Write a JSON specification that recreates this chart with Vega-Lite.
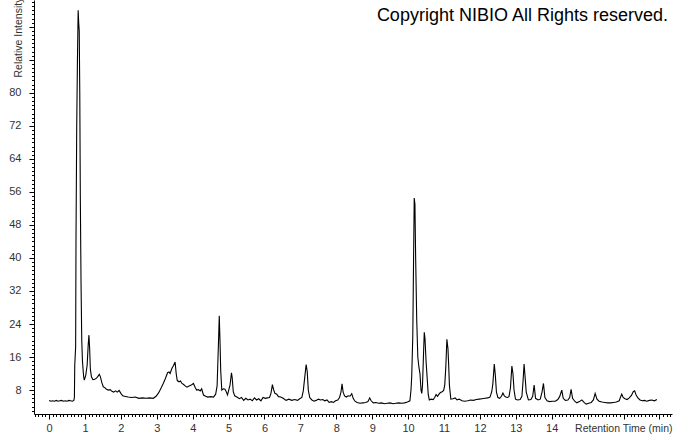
{
  "$schema": "https://vega.github.io/schema/vega-lite/v6.json",
  "width": 638,
  "height": 414,
  "autosize": {"type": "none"},
  "padding": {"left": 34, "top": 0, "right": 2, "bottom": 20},
  "background": "white",
  "config": {
    "view": {"stroke": null},
    "axis": {"grid": false, "domainColor": "#000", "tickColor": "#000", "labelFont": "Liberation Sans", "titleFont": "Liberation Sans", "labelColor": "#333", "titleColor": "#333", "titleFontWeight": "normal", "labelFlush": false, "labelOverlap": false}
  },
  "title": {"text": "Copyright NIBIO All Rights reserved.", "orient": "top", "anchor": "end", "frame": "group", "offset": -20, "dy": 8, "dx": -4, "baseline": "top", "font": "Liberation Sans", "fontSize": 18, "fontWeight": "normal", "color": "#000"},
  "data": {"values": [
    {"time": 0.00, "intensity": 5.5}, {"time": 0.05, "intensity": 5.3}, {"time": 0.10, "intensity": 5.4}, {"time": 0.15, "intensity": 5.3}, {"time": 0.20, "intensity": 5.5}, {"time": 0.25, "intensity": 5.3}, {"time": 0.30, "intensity": 5.4}, {"time": 0.35, "intensity": 5.5}, {"time": 0.40, "intensity": 5.3}, {"time": 0.45, "intensity": 5.4}, {"time": 0.50, "intensity": 5.3}, {"time": 0.55, "intensity": 5.5}, {"time": 0.60, "intensity": 5.4}, {"time": 0.65, "intensity": 5.3}, {"time": 0.69, "intensity": 5.5},
    {"time": 0.705, "intensity": 6.2}, {"time": 0.715, "intensity": 14}, {"time": 0.74, "intensity": 18.5}, {"time": 0.75, "intensity": 45}, {"time": 0.77, "intensity": 72}, {"time": 0.79, "intensity": 88}, {"time": 0.81, "intensity": 100}, {"time": 0.825, "intensity": 97}, {"time": 0.84, "intensity": 95}, {"time": 0.855, "intensity": 80}, {"time": 0.87, "intensity": 55}, {"time": 0.89, "intensity": 34}, {"time": 0.91, "intensity": 20}, {"time": 0.93, "intensity": 15}, {"time": 0.96, "intensity": 11.5}, {"time": 0.98, "intensity": 10.4},
    {"time": 1.02, "intensity": 11.5}, {"time": 1.06, "intensity": 14}, {"time": 1.09, "intensity": 19}, {"time": 1.11, "intensity": 21.3}, {"time": 1.13, "intensity": 18}, {"time": 1.15, "intensity": 13}, {"time": 1.18, "intensity": 11.2}, {"time": 1.22, "intensity": 10.5}, {"time": 1.27, "intensity": 10.6}, {"time": 1.32, "intensity": 10.9}, {"time": 1.36, "intensity": 11.3}, {"time": 1.40, "intensity": 11.8}, {"time": 1.43, "intensity": 11.2}, {"time": 1.47, "intensity": 9.8}, {"time": 1.51, "intensity": 8.8},
    {"time": 1.55, "intensity": 8.6}, {"time": 1.60, "intensity": 8.2}, {"time": 1.65, "intensity": 8.0}, {"time": 1.70, "intensity": 8.1}, {"time": 1.75, "intensity": 7.7}, {"time": 1.80, "intensity": 7.5}, {"time": 1.85, "intensity": 7.8}, {"time": 1.90, "intensity": 7.5}, {"time": 1.95, "intensity": 7.9}, {"time": 2.00, "intensity": 7.2}, {"time": 2.05, "intensity": 6.6}, {"time": 2.10, "intensity": 6.5}, {"time": 2.20, "intensity": 6.3}, {"time": 2.30, "intensity": 6.2}, {"time": 2.40, "intensity": 6.3}, {"time": 2.50, "intensity": 6.0}, {"time": 2.60, "intensity": 6.1}, {"time": 2.70, "intensity": 6.0}, {"time": 2.80, "intensity": 6.1}, {"time": 2.90, "intensity": 6.0},
    {"time": 2.98, "intensity": 6.5}, {"time": 3.05, "intensity": 7.3}, {"time": 3.12, "intensity": 8.5}, {"time": 3.18, "intensity": 9.6}, {"time": 3.24, "intensity": 10.8}, {"time": 3.30, "intensity": 12.2}, {"time": 3.34, "intensity": 12.4}, {"time": 3.37, "intensity": 12.0}, {"time": 3.42, "intensity": 13.2}, {"time": 3.47, "intensity": 14.0}, {"time": 3.51, "intensity": 14.8}, {"time": 3.54, "intensity": 12.0}, {"time": 3.57, "intensity": 10.3}, {"time": 3.62, "intensity": 10.0}, {"time": 3.66, "intensity": 10.2}, {"time": 3.70, "intensity": 9.6}, {"time": 3.74, "intensity": 9.4}, {"time": 3.79, "intensity": 9.0}, {"time": 3.84, "intensity": 8.7}, {"time": 3.90, "intensity": 9.0}, {"time": 3.96, "intensity": 9.2}, {"time": 4.02, "intensity": 9.6}, {"time": 4.07, "intensity": 8.6}, {"time": 4.11, "intensity": 8.0}, {"time": 4.16, "intensity": 8.1}, {"time": 4.21, "intensity": 7.8}, {"time": 4.25, "intensity": 8.3}, {"time": 4.30, "intensity": 6.8}, {"time": 4.36, "intensity": 6.5}, {"time": 4.42, "intensity": 6.3}, {"time": 4.50, "intensity": 6.4}, {"time": 4.58, "intensity": 6.3}, {"time": 4.64, "intensity": 7.0},
    {"time": 4.68, "intensity": 9.0}, {"time": 4.70, "intensity": 14.5}, {"time": 4.72, "intensity": 20}, {"time": 4.74, "intensity": 26}, {"time": 4.76, "intensity": 20}, {"time": 4.78, "intensity": 12.8}, {"time": 4.81, "intensity": 8.0}, {"time": 4.85, "intensity": 8.3}, {"time": 4.90, "intensity": 8.2}, {"time": 4.94, "intensity": 7.5}, {"time": 4.97, "intensity": 6.8}, {"time": 5.01, "intensity": 8.2}, {"time": 5.04, "intensity": 9.2}, {"time": 5.08, "intensity": 12.2}, {"time": 5.10, "intensity": 11.0}, {"time": 5.13, "intensity": 7.6}, {"time": 5.17, "intensity": 6.6}, {"time": 5.23, "intensity": 6.3},
    {"time": 5.30, "intensity": 5.9}, {"time": 5.36, "intensity": 6.2}, {"time": 5.42, "intensity": 5.5}, {"time": 5.48, "intensity": 6.0}, {"time": 5.54, "intensity": 5.6}, {"time": 5.60, "intensity": 5.8}, {"time": 5.66, "intensity": 5.4}, {"time": 5.72, "intensity": 6.1}, {"time": 5.78, "intensity": 5.6}, {"time": 5.84, "intensity": 5.9}, {"time": 5.90, "intensity": 5.4}, {"time": 5.96, "intensity": 6.2}, {"time": 6.02, "intensity": 6.0}, {"time": 6.08, "intensity": 6.1}, {"time": 6.14, "intensity": 6.2}, {"time": 6.18, "intensity": 7.2}, {"time": 6.22, "intensity": 9.3}, {"time": 6.25, "intensity": 8.2}, {"time": 6.29, "intensity": 7.2}, {"time": 6.34, "intensity": 7.0}, {"time": 6.39, "intensity": 6.4}, {"time": 6.45, "intensity": 6.3}, {"time": 6.52, "intensity": 6.0}, {"time": 6.60, "intensity": 5.5}, {"time": 6.68, "intensity": 5.8}, {"time": 6.76, "intensity": 5.5}, {"time": 6.84, "intensity": 5.7}, {"time": 6.92, "intensity": 5.5}, {"time": 6.98, "intensity": 5.9},
    {"time": 7.04, "intensity": 6.2}, {"time": 7.08, "intensity": 7.8}, {"time": 7.12, "intensity": 11}, {"time": 7.16, "intensity": 14.2}, {"time": 7.19, "intensity": 12.5}, {"time": 7.22, "intensity": 8.0}, {"time": 7.26, "intensity": 6.2}, {"time": 7.32, "intensity": 5.6}, {"time": 7.38, "intensity": 5.3}, {"time": 7.44, "intensity": 5.5}, {"time": 7.50, "intensity": 5.8}, {"time": 7.56, "intensity": 5.6}, {"time": 7.62, "intensity": 5.7}, {"time": 7.68, "intensity": 5.4}, {"time": 7.74, "intensity": 5.6}, {"time": 7.80, "intensity": 5.0}, {"time": 7.86, "intensity": 5.2}, {"time": 7.92, "intensity": 5.0}, {"time": 7.98, "intensity": 5.4}, {"time": 8.04, "intensity": 5.6},
    {"time": 8.09, "intensity": 6.2}, {"time": 8.13, "intensity": 7.5}, {"time": 8.16, "intensity": 9.5}, {"time": 8.19, "intensity": 7.5}, {"time": 8.23, "intensity": 6.6}, {"time": 8.28, "intensity": 6.3}, {"time": 8.33, "intensity": 6.6}, {"time": 8.38, "intensity": 6.5}, {"time": 8.43, "intensity": 7.1}, {"time": 8.47, "intensity": 6.0}, {"time": 8.52, "intensity": 5.3}, {"time": 8.58, "intensity": 5.0}, {"time": 8.66, "intensity": 4.8}, {"time": 8.74, "intensity": 4.9}, {"time": 8.82, "intensity": 5.0}, {"time": 8.88, "intensity": 5.2}, {"time": 8.93, "intensity": 6.1}, {"time": 8.97, "intensity": 5.4}, {"time": 9.03, "intensity": 4.9}, {"time": 9.10, "intensity": 5.0}, {"time": 9.18, "intensity": 4.8}, {"time": 9.26, "intensity": 4.9}, {"time": 9.34, "intensity": 4.7}, {"time": 9.42, "intensity": 4.8}, {"time": 9.50, "intensity": 4.9}, {"time": 9.58, "intensity": 4.7}, {"time": 9.66, "intensity": 4.8}, {"time": 9.74, "intensity": 4.9}, {"time": 9.82, "intensity": 4.8}, {"time": 9.90, "intensity": 4.9}, {"time": 9.98, "intensity": 5.1}, {"time": 10.05, "intensity": 5.4},
    {"time": 10.08, "intensity": 8.0}, {"time": 10.10, "intensity": 11.2}, {"time": 10.13, "intensity": 21}, {"time": 10.15, "intensity": 38}, {"time": 10.17, "intensity": 54.5}, {"time": 10.19, "intensity": 53}, {"time": 10.21, "intensity": 40}, {"time": 10.24, "intensity": 25}, {"time": 10.27, "intensity": 16}, {"time": 10.30, "intensity": 13.6}, {"time": 10.33, "intensity": 12}, {"time": 10.36, "intensity": 8}, {"time": 10.38, "intensity": 7.2}, {"time": 10.40, "intensity": 9}, {"time": 10.43, "intensity": 17}, {"time": 10.45, "intensity": 22}, {"time": 10.47, "intensity": 20.5}, {"time": 10.50, "intensity": 15}, {"time": 10.53, "intensity": 11}, {"time": 10.56, "intensity": 7}, {"time": 10.59, "intensity": 5.6}, {"time": 10.64, "intensity": 5.8}, {"time": 10.70, "intensity": 5.7}, {"time": 10.74, "intensity": 6.2}, {"time": 10.78, "intensity": 6.9}, {"time": 10.82, "intensity": 6.5}, {"time": 10.86, "intensity": 7.0}, {"time": 10.90, "intensity": 7.4}, {"time": 10.95, "intensity": 7.6}, {"time": 10.99, "intensity": 7.9},
    {"time": 11.02, "intensity": 9.2}, {"time": 11.05, "intensity": 13.6}, {"time": 11.08, "intensity": 20.3}, {"time": 11.11, "intensity": 18}, {"time": 11.13, "intensity": 14}, {"time": 11.15, "intensity": 9.2}, {"time": 11.19, "intensity": 5.8}, {"time": 11.25, "intensity": 5.9}, {"time": 11.31, "intensity": 6.1}, {"time": 11.36, "intensity": 5.6}, {"time": 11.42, "intensity": 5.8}, {"time": 11.50, "intensity": 5.4}, {"time": 11.58, "intensity": 5.3}, {"time": 11.66, "intensity": 5.4}, {"time": 11.74, "intensity": 5.6}, {"time": 11.82, "intensity": 5.5}, {"time": 11.90, "intensity": 5.7}, {"time": 11.98, "intensity": 5.8}, {"time": 12.06, "intensity": 5.9}, {"time": 12.14, "intensity": 6.0}, {"time": 12.22, "intensity": 6.1}, {"time": 12.28, "intensity": 6.3},
    {"time": 12.33, "intensity": 7.6}, {"time": 12.36, "intensity": 9.5}, {"time": 12.40, "intensity": 14.3}, {"time": 12.43, "intensity": 11.5}, {"time": 12.46, "intensity": 7.5}, {"time": 12.50, "intensity": 6.2}, {"time": 12.55, "intensity": 6.0}, {"time": 12.60, "intensity": 6.5}, {"time": 12.64, "intensity": 7.3}, {"time": 12.68, "intensity": 6.6}, {"time": 12.72, "intensity": 6.3}, {"time": 12.77, "intensity": 6.2}, {"time": 12.81, "intensity": 6.4}, {"time": 12.85, "intensity": 8.5}, {"time": 12.89, "intensity": 13.8}, {"time": 12.92, "intensity": 12.0}, {"time": 12.95, "intensity": 8.0}, {"time": 12.99, "intensity": 5.8},
    {"time": 13.05, "intensity": 5.6}, {"time": 13.12, "intensity": 5.7}, {"time": 13.17, "intensity": 6.5}, {"time": 13.20, "intensity": 10}, {"time": 13.23, "intensity": 14.3}, {"time": 13.26, "intensity": 11}, {"time": 13.29, "intensity": 7.5}, {"time": 13.35, "intensity": 5.6}, {"time": 13.42, "intensity": 5.7}, {"time": 13.47, "intensity": 6.5}, {"time": 13.51, "intensity": 9.2}, {"time": 13.55, "intensity": 6.0}, {"time": 13.62, "intensity": 5.6}, {"time": 13.68, "intensity": 5.8}, {"time": 13.73, "intensity": 7.5}, {"time": 13.77, "intensity": 9.6}, {"time": 13.81, "intensity": 6.2}, {"time": 13.87, "intensity": 5.4}, {"time": 13.94, "intensity": 5.2},
    {"time": 14.02, "intensity": 5.3}, {"time": 14.10, "intensity": 5.3}, {"time": 14.17, "intensity": 5.7}, {"time": 14.22, "intensity": 6.4}, {"time": 14.28, "intensity": 8.0}, {"time": 14.32, "intensity": 6.0}, {"time": 14.38, "intensity": 5.5}, {"time": 14.45, "intensity": 5.6}, {"time": 14.50, "intensity": 6.2}, {"time": 14.54, "intensity": 8.2}, {"time": 14.58, "intensity": 6.0}, {"time": 14.64, "intensity": 5.3}, {"time": 14.70, "intensity": 4.9}, {"time": 14.77, "intensity": 5.2}, {"time": 14.84, "intensity": 5.6}, {"time": 14.90, "intensity": 5.0}, {"time": 14.96, "intensity": 4.6},
    {"time": 15.03, "intensity": 4.8}, {"time": 15.10, "intensity": 5.0}, {"time": 15.16, "intensity": 5.6}, {"time": 15.21, "intensity": 7.2}, {"time": 15.26, "intensity": 5.8}, {"time": 15.32, "intensity": 5.3}, {"time": 15.40, "intensity": 5.1}, {"time": 15.48, "intensity": 5.0}, {"time": 15.56, "intensity": 4.9}, {"time": 15.64, "intensity": 4.9}, {"time": 15.72, "intensity": 5.0}, {"time": 15.80, "intensity": 5.1}, {"time": 15.88, "intensity": 5.4}, {"time": 15.92, "intensity": 6.4}, {"time": 15.95, "intensity": 7.0}, {"time": 15.99, "intensity": 6.2},
    {"time": 16.04, "intensity": 5.9}, {"time": 16.10, "intensity": 5.7}, {"time": 16.16, "intensity": 6.1}, {"time": 16.22, "intensity": 6.7}, {"time": 16.27, "intensity": 7.6}, {"time": 16.31, "intensity": 7.8}, {"time": 16.35, "intensity": 6.8}, {"time": 16.40, "intensity": 6.1}, {"time": 16.46, "intensity": 5.6}, {"time": 16.52, "intensity": 5.4}, {"time": 16.58, "intensity": 5.5}, {"time": 16.65, "intensity": 5.3}, {"time": 16.72, "intensity": 5.5}, {"time": 16.79, "intensity": 5.6}, {"time": 16.86, "intensity": 5.4}, {"time": 16.93, "intensity": 5.7}
  ]},
  "layer": [
    {
      "mark": {"type": "line", "color": "#000", "strokeWidth": 1.1, "interpolate": "linear"},
      "encoding": {
        "x": {"field": "time", "type": "quantitative", "scale": {"domain": [-0.42, 17.35], "nice": false, "zero": false},
          "axis": {"orient": "bottom", "values": [0,1,2,3,4,5,6,7,8,9,10,11,12,13,14,15,16,17], "labelExpr": "datum.value <= 14 ? datum.label : ''", "tickSize": 5, "labelPadding": 3, "labelFontSize": 11, "title": "Retention Time (min)", "titleFontSize": 10.5, "titleX": 638, "titleY": 14, "titleAlign": "right", "titleBaseline": "middle", "titleAnchor": null}},
        "y": {"field": "intensity", "type": "quantitative", "scale": {"domain": [2.2, 102.5], "nice": false, "zero": false},
          "axis": {"orient": "left", "values": [8,16,24,32,40,48,56,64,72,80,88,96], "labelExpr": "datum.value <= 80 ? datum.label : ''", "tickSize": 5, "labelPadding": 8, "labelFontSize": 11, "title": "Relative Intensity", "titleFontSize": 10.5, "titleAngle": -90, "titleAlign": "left", "titleBaseline": "middle", "titleX": -15.5, "titleY": 77}}
      }
    },
    {
      "mark": {"type": "line", "strokeOpacity": 0},
      "encoding": {
        "x": {"field": "time", "type": "quantitative", "axis": {"orient": "bottom", "tickCount": 178, "tickSize": 2.5, "labels": false, "domain": false, "title": null}},
        "y": {"field": "intensity", "type": "quantitative", "axis": {"orient": "left", "tickCount": 100, "tickSize": 2.5, "labels": false, "domain": false, "title": null}}
      }
    }
  ],
  "resolve": {"axis": {"x": "independent", "y": "independent"}}
}
